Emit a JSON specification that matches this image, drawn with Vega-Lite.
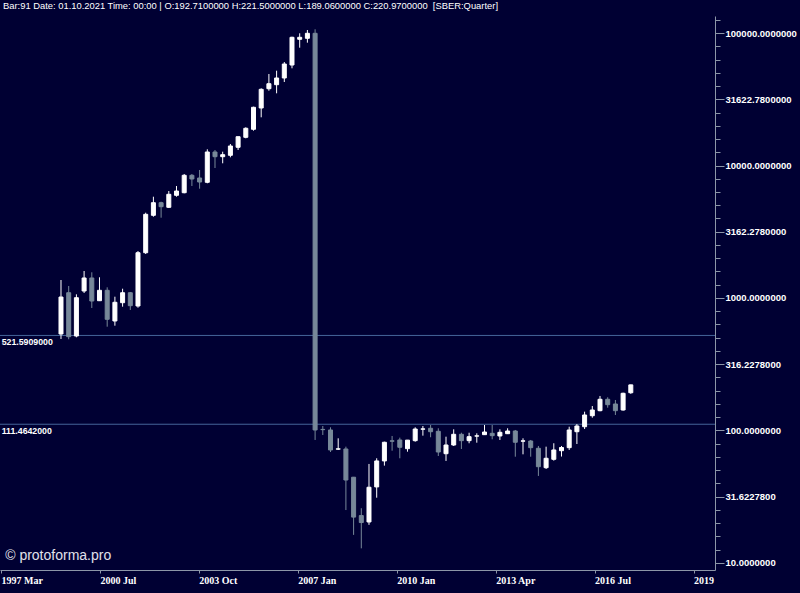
{
  "$schema": "https://vega.github.io/schema/vega-lite/v6.json",
  "width": 715,
  "height": 554,
  "autosize": {"type": "none"},
  "padding": {"left": 0, "top": 16, "right": 85, "bottom": 23},
  "background": "#000033",
  "title": {
    "text": "Bar:91 Date: 01.10.2021 Time: 00:00 | O:192.7100000 H:221.5000000 L:189.0600000 C:220.9700000 \u00a0[SBER:Quarter]",
    "anchor": "start",
    "frame": "group",
    "orient": "top",
    "offset": 3,
    "dx": 3,
    "font": "Liberation Sans",
    "fontSize": 9.4,
    "fontWeight": "normal",
    "color": "#ffffff"
  },
  "config": {
    "view": {"stroke": null},
    "axis": {"grid": false, "title": null}
  },
  "datasets": {
    "candles": [
      {"bar": 17, "open": 535, "high": 1367, "low": 490.6, "close": 1017},
      {"bar": 18, "open": 1096, "high": 1232, "low": 488, "close": 510.6},
      {"bar": 19, "open": 516.7, "high": 1066, "low": 505, "close": 1005},
      {"bar": 20, "open": 1129, "high": 1599, "low": 1091, "close": 1416},
      {"bar": 21, "open": 1416, "high": 1563, "low": 840.6, "close": 949},
      {"bar": 22, "open": 954, "high": 1433, "low": 949, "close": 1143},
      {"bar": 23, "open": 1143, "high": 1204, "low": 607.3, "close": 690.5},
      {"bar": 24, "open": 670.5, "high": 1023, "low": 618, "close": 928},
      {"bar": 25, "open": 921.5, "high": 1175, "low": 859.8, "close": 1096},
      {"bar": 26, "open": 1096, "high": 1110, "low": 811.9, "close": 874.8},
      {"bar": 27, "open": 870, "high": 2262, "low": 845, "close": 2197},
      {"bar": 28, "open": 2197, "high": 4403, "low": 2148, "close": 4281},
      {"bar": 29, "open": 4208, "high": 5814, "low": 4107, "close": 5239},
      {"bar": 30, "open": 5239, "high": 5331, "low": 4036, "close": 4887},
      {"bar": 31, "open": 4836, "high": 6420, "low": 4777, "close": 6062},
      {"bar": 32, "open": 5958, "high": 7003, "low": 5814, "close": 6420},
      {"bar": 33, "open": 6232, "high": 8627, "low": 6168, "close": 8433},
      {"bar": 34, "open": 8433, "high": 8627, "low": 7003, "close": 7910},
      {"bar": 35, "open": 8048, "high": 9248, "low": 6683, "close": 7507},
      {"bar": 36, "open": 7468, "high": 13255, "low": 7340, "close": 12646},
      {"bar": 37, "open": 12646, "high": 13092, "low": 9574, "close": 11652},
      {"bar": 38, "open": 11652, "high": 12712, "low": 10390, "close": 12064},
      {"bar": 39, "open": 11940, "high": 14530, "low": 11532, "close": 14036},
      {"bar": 40, "open": 13723, "high": 16495, "low": 13092, "close": 16495},
      {"bar": 41, "open": 16323, "high": 19424, "low": 16043, "close": 19092},
      {"bar": 42, "open": 18761, "high": 27788, "low": 18308, "close": 27497},
      {"bar": 43, "open": 27164, "high": 38234, "low": 23106, "close": 37580},
      {"bar": 44, "open": 37969, "high": 49055, "low": 36676, "close": 41432},
      {"bar": 45, "open": 40717, "high": 51947, "low": 35056, "close": 45754},
      {"bar": 46, "open": 45754, "high": 60400, "low": 42670, "close": 58345},
      {"bar": 47, "open": 57343, "high": 93778, "low": 54150, "close": 92796},
      {"bar": 48, "open": 89650, "high": 99470, "low": 77460, "close": 92796},
      {"bar": 49, "open": 91200, "high": 105340, "low": 84520, "close": 99470},
      {"bar": 50, "open": 99470, "high": 106650, "low": 84.8, "close": 100.9},
      {"bar": 51, "open": 101.9, "high": 108.1, "low": 92.5, "close": 101.5},
      {"bar": 52, "open": 100.9, "high": 105.7, "low": 68.8, "close": 71.3},
      {"bar": 53, "open": 72.3, "high": 87.3, "low": 71.3, "close": 72.7},
      {"bar": 54, "open": 72.5, "high": 75.5, "low": 25.1, "close": 42.3},
      {"bar": 55, "open": 44.4, "high": 44.6, "low": 16.3, "close": 22.2},
      {"bar": 56, "open": 22.8, "high": 25.9, "low": 12.9, "close": 20.2},
      {"bar": 57, "open": 20.4, "high": 55.9, "low": 19.4, "close": 37.3},
      {"bar": 58, "open": 37.5, "high": 61.7, "low": 31.1, "close": 58.9},
      {"bar": 59, "open": 58.9, "high": 82.3, "low": 54.3, "close": 81.5},
      {"bar": 60, "open": 83.6, "high": 90.9, "low": 70.4, "close": 83.0},
      {"bar": 61, "open": 84.8, "high": 88.3, "low": 61.7, "close": 74.7},
      {"bar": 62, "open": 72.9, "high": 84.8, "low": 69.2, "close": 84.6},
      {"bar": 63, "open": 83.8, "high": 105.7, "low": 82.3, "close": 102.6},
      {"bar": 64, "open": 102.3, "high": 108.1, "low": 91.4, "close": 102.8},
      {"bar": 65, "open": 103.9, "high": 110.0, "low": 88.9, "close": 97.9},
      {"bar": 66, "open": 98.6, "high": 103.9, "low": 64.2, "close": 68.8},
      {"bar": 67, "open": 66.8, "high": 89.8, "low": 58.9, "close": 77.7},
      {"bar": 68, "open": 77.7, "high": 102.1, "low": 76.4, "close": 93.6},
      {"bar": 69, "open": 93.6, "high": 96.2, "low": 72.5, "close": 83.8},
      {"bar": 70, "open": 83.8, "high": 96.2, "low": 80.1, "close": 89.8},
      {"bar": 71, "open": 90.7, "high": 95.2, "low": 80.9, "close": 91.1},
      {"bar": 72, "open": 93.0, "high": 110.0, "low": 92.5, "close": 97.4},
      {"bar": 73, "open": 95.2, "high": 110.0, "low": 85.8, "close": 91.4},
      {"bar": 74, "open": 90.9, "high": 102.1, "low": 84.8, "close": 96.9},
      {"bar": 75, "open": 94.6, "high": 103.9, "low": 94.1, "close": 99.1},
      {"bar": 76, "open": 99.1, "high": 100.9, "low": 63.4, "close": 81.5},
      {"bar": 77, "open": 83.1, "high": 87.3, "low": 66.1, "close": 83.5},
      {"bar": 78, "open": 83.3, "high": 84.8, "low": 63.4, "close": 74.2},
      {"bar": 79, "open": 73.4, "high": 76.4, "low": 45.4, "close": 53.3},
      {"bar": 80, "open": 52.4, "high": 75.5, "low": 51.2, "close": 61.7},
      {"bar": 81, "open": 60.6, "high": 80.1, "low": 59.2, "close": 71.3},
      {"bar": 82, "open": 70.4, "high": 76.4, "low": 63.6, "close": 74.4},
      {"bar": 83, "open": 74.2, "high": 106.8, "low": 71.3, "close": 100.9},
      {"bar": 84, "open": 97.9, "high": 111.9, "low": 79.1, "close": 108.1},
      {"bar": 85, "open": 106.8, "high": 138.7, "low": 102.6, "close": 130.9},
      {"bar": 86, "open": 129.3, "high": 153.0, "low": 124.9, "close": 142.8},
      {"bar": 87, "open": 141.1, "high": 182.2, "low": 139.6, "close": 172.0},
      {"bar": 88, "open": 172.0, "high": 178.1, "low": 148.6, "close": 156.6},
      {"bar": 89, "open": 158.5, "high": 169.9, "low": 130.9, "close": 141.1},
      {"bar": 90, "open": 142.8, "high": 192.9, "low": 141.1, "close": 190.9},
      {"bar": 91, "open": 192.71, "high": 221.5, "low": 189.06, "close": 220.97}
    ],
    "levels": [
      {"level": 521.5909, "label": "521.5909000"},
      {"level": 111.4642, "label": "111.4642000"}
    ],
    "watermark": [
      {"label": "© protoforma.pro"}
    ]
  },
  "layer": [
    {
      "data": {"name": "levels"},
      "mark": {"type": "rule", "color": "#45649a", "strokeWidth": 1},
      "encoding": {
        "y": {"field": "level", "type": "quantitative", "scale": {"type": "log", "domain": [8.853, 134380], "nice": false, "zero": false, "padding": 0}}
      }
    },
    {
      "data": {"name": "candles"},
      "mark": {"type": "rule", "strokeWidth": 1},
      "encoding": {
        "x": {
          "field": "bar",
          "type": "quantitative",
          "scale": {"domain": [9.078, 101.935], "nice": false, "zero": false, "padding": 0},
          "axis": {
            "orient": "bottom",
            "values": [9.2, 22.05, 34.9, 47.75, 60.6, 73.45, 86.3, 99.15],
            "labelExpr": "datum.value < 10 ? '1997 Mar' : datum.value < 23 ? '2000 Jul' : datum.value < 35 ? '2003 Oct' : datum.value < 48 ? '2007 Jan' : datum.value < 61 ? '2010 Jan' : datum.value < 74 ? '2013 Apr' : datum.value < 87 ? '2016 Jul' : '2019'",
            "labelAlign": "left",
            "labelBaseline": "top",
            "labelPadding": 2,
            "labelFlush": false,
            "labelOverlap": false,
            "labelBound": false,
            "labelColor": "#ffffff",
            "labelFont": "Liberation Sans Narrow",
            "labelFontSize": 10,
            "labelFontWeight": "bold",
            "domainColor": "#8c96a8",
            "domainWidth": 1,
            "tickColor": "#8c96a8",
            "tickSize": 3
          }
        },
        "y": {
          "field": "low",
          "type": "quantitative",
          "scale": {"type": "log", "domain": [8.853, 134380], "nice": false, "zero": false, "padding": 0},
          "axis": {
            "orient": "right",
            "values": [10, 12.589254, 15.848932, 19.952623, 25.118864, 31.622777, 39.810717, 50.118723, 63.095734, 79.432823, 100, 125.89254, 158.48932, 199.52623, 251.18864, 316.22777, 398.10717, 501.18723, 630.95734, 794.32823, 1000, 1258.9254, 1584.8932, 1995.2623, 2511.8864, 3162.2777, 3981.0717, 5011.8723, 6309.5734, 7943.2823, 10000, 12589.254, 15848.932, 19952.623, 25118.864, 31622.777, 39810.717, 50118.723, 63095.734, 79432.823, 100000, 125892.54],
            "labelExpr": "abs(log(datum.value) / LN10 * 2 - round(log(datum.value) / LN10 * 2)) < 0.001 ? format(toNumber(format(datum.value, '.7r')), '.7f') : ''",
            "labelColor": "#ffffff",
            "labelFont": "Liberation Sans",
            "labelFontSize": 9.5,
            "labelFontWeight": "bold",
            "labelPadding": 1,
            "labelOverlap": false,
            "labelFlush": false,
            "labelBound": false,
            "domainColor": "#8c96a8",
            "tickColor": "#8c96a8",
            "tickSize": {"condition": {"test": "abs(log(datum.value) / LN10 * 2 - round(log(datum.value) / LN10 * 2)) < 0.001", "value": 9}, "value": 5}
          }
        },
        "y2": {"field": "high"},
        "color": {"condition": {"test": "datum.close >= datum.open", "value": "#ffffff"}, "value": "#778899"}
      }
    },
    {
      "data": {"name": "candles"},
      "mark": {"type": "bar", "width": 4, "strokeWidth": 1},
      "encoding": {
        "x": {"field": "bar", "type": "quantitative"},
        "y": {"field": "open", "type": "quantitative"},
        "y2": {"field": "close"},
        "fill": {"condition": {"test": "datum.close >= datum.open", "value": "#ffffff"}, "value": "#778899"},
        "stroke": {"condition": {"test": "datum.close >= datum.open", "value": "#ffffff"}, "value": "#778899"}
      }
    },
    {
      "data": {"name": "levels"},
      "mark": {"type": "text", "align": "left", "baseline": "top", "dy": 3, "font": "Liberation Sans", "fontSize": 8.75, "fontWeight": "bold", "fill": "#ffffff", "clip": false},
      "encoding": {
        "x": {"datum": 9.3, "type": "quantitative"},
        "y": {"field": "level", "type": "quantitative"},
        "text": {"field": "label", "type": "nominal"}
      }
    },
    {
      "data": {"name": "watermark"},
      "mark": {"type": "text", "align": "left", "baseline": "middle", "font": "Liberation Sans", "fontSize": 14, "fill": "#e0e0ea", "clip": false},
      "encoding": {
        "x": {"datum": 9.75, "type": "quantitative"},
        "y": {"datum": 11.3, "type": "quantitative"},
        "text": {"field": "label", "type": "nominal"}
      }
    }
  ]
}
